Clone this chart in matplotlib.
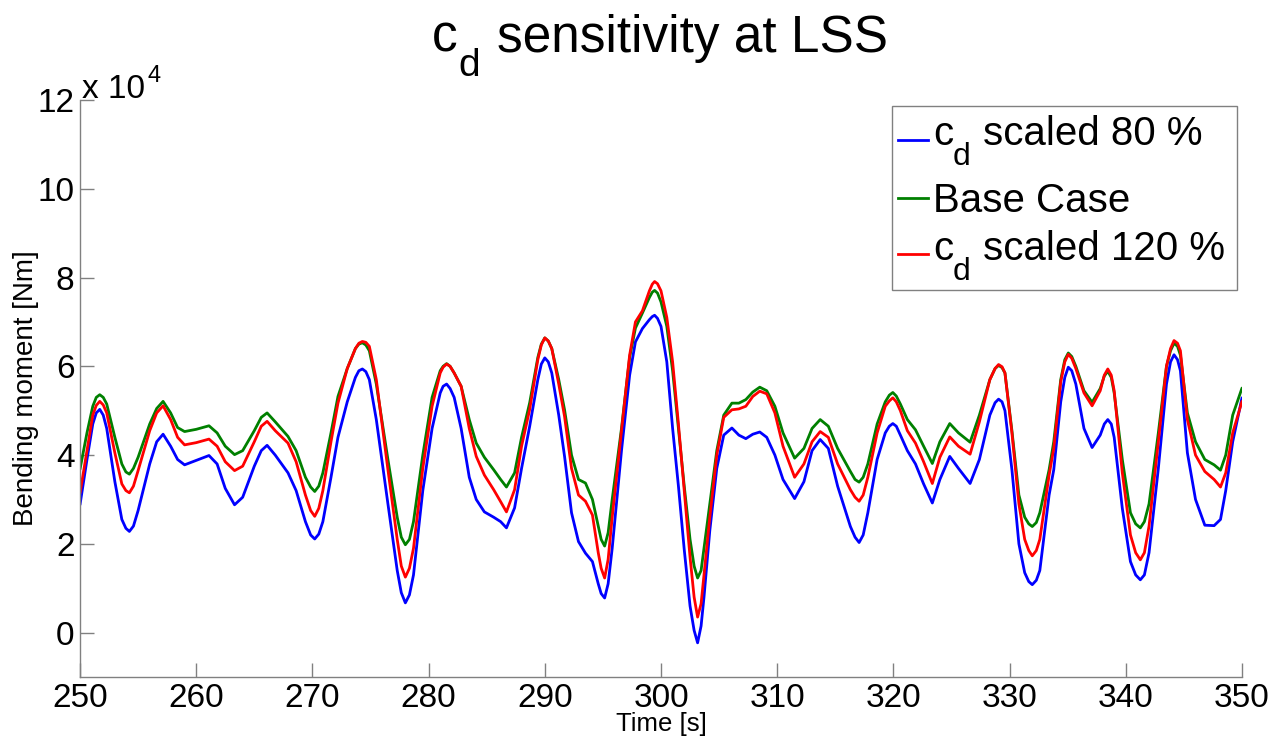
import matplotlib
matplotlib.use("Agg")
import matplotlib.pyplot as plt
from matplotlib.patches import Rectangle
from matplotlib.lines import Line2D
import numpy as np

plt.rcParams['font.family'] = ['Liberation Sans', 'DejaVu Sans']

# time [s]
time = [250.0, 250.6, 251.1, 251.4, 251.7, 252.0, 252.3, 253.0, 253.6, 253.95,
        254.25, 254.6, 255.0, 256.0, 256.6, 257.15, 257.8, 258.4, 259.0, 260.0,
        261.1, 261.8, 262.5, 263.3, 264.0, 265.0, 265.6, 266.1, 266.8, 267.9,
        268.6, 269.4, 269.85, 270.2, 270.55, 270.9, 271.6, 272.2, 273.0, 273.7,
        274.0, 274.3, 274.6, 274.9, 275.5, 276.5, 277.3, 277.65, 278.0, 278.35,
        278.7, 279.5, 280.3, 281.0, 281.25, 281.55, 281.85, 282.2, 282.8, 283.5,
        284.1, 284.8, 285.6, 286.2, 286.7, 287.4, 288.0, 288.7, 289.4, 289.7,
        290.0, 290.3, 290.6, 291.2, 291.7, 292.3, 292.9, 293.5, 294.1, 294.6,
        294.85, 295.15, 295.45, 295.8, 296.6, 297.3, 297.8, 298.4, 299.0, 299.25,
        299.45, 299.7, 300.0, 300.5, 301.0, 301.5, 302.0, 302.5, 302.85, 303.15,
        303.45, 303.7, 304.2, 304.8, 305.4, 306.1, 306.7, 307.3, 307.9, 308.5,
        309.1, 309.8, 310.5, 311.5, 312.3, 313.0, 313.7, 314.4, 315.2, 316.3,
        316.7, 317.05, 317.4, 317.8, 318.6, 319.3, 319.65, 319.95, 320.25, 320.6,
        321.2, 321.9, 322.6, 323.35, 324.0, 324.85, 325.6, 326.6, 327.4, 328.3,
        328.75, 329.05, 329.35, 329.6, 330.2, 330.8, 331.3, 331.65, 331.95, 332.3,
        332.6, 333.4, 333.8, 334.4, 334.75, 335.05, 335.35, 335.7, 336.4, 337.1,
        337.8, 338.15, 338.45, 338.75, 339.0, 339.7, 340.4, 340.85, 341.25, 341.6,
        342.0, 342.8, 343.5, 343.85, 344.15, 344.45, 344.7, 345.3, 346.0, 346.8,
        347.6, 348.15, 348.6, 349.2, 350.0]

# bending moment, units of 1e4 Nm
cd80 = [2.88, 3.9, 4.7, 4.95, 5.03, 4.9, 4.6, 3.4, 2.55, 2.35,
        2.28, 2.4, 2.75, 3.8, 4.3, 4.47, 4.2, 3.9, 3.78, 3.88,
        3.99, 3.8, 3.25, 2.88, 3.05, 3.75, 4.1, 4.22, 4.0, 3.6,
        3.2, 2.5, 2.2, 2.11, 2.22, 2.5, 3.5, 4.4, 5.2, 5.75,
        5.9, 5.94, 5.88, 5.7, 4.8, 2.9, 1.4, 0.9, 0.67, 0.85,
        1.3, 3.2, 4.6, 5.4, 5.55, 5.6, 5.5, 5.3, 4.6, 3.5,
        3.0, 2.72, 2.6, 2.5, 2.36, 2.81, 3.7, 4.65, 5.7, 6.05,
        6.19, 6.1, 5.85, 4.9, 3.97, 2.7, 2.05, 1.79, 1.6, 1.1,
        0.88, 0.78, 1.1, 1.9, 4.1, 5.8, 6.55, 6.85, 7.05, 7.12,
        7.15, 7.08, 6.9, 6.1, 4.6, 3.3, 1.87, 0.6, 0.05, -0.23,
        0.15, 0.8, 2.3, 3.7, 4.45, 4.61, 4.45, 4.37, 4.47, 4.52,
        4.4, 4.0, 3.45, 3.02, 3.4, 4.1, 4.35, 4.15, 3.3, 2.39,
        2.15, 2.03, 2.2, 2.7, 3.9, 4.5, 4.65, 4.71, 4.65, 4.45,
        4.1, 3.8, 3.35, 2.92, 3.45, 3.97, 3.7, 3.36, 3.9, 4.9,
        5.18, 5.26, 5.2, 5.0, 3.67, 2.0, 1.35, 1.15, 1.08, 1.18,
        1.4, 3.1, 3.67, 5.2, 5.75, 5.98, 5.9, 5.6, 4.6, 4.17,
        4.45, 4.7, 4.8, 4.7, 4.4, 2.8, 1.6, 1.3, 1.19, 1.3,
        1.8, 3.7, 5.6, 6.1, 6.26, 6.15, 5.9, 4.05, 3.0, 2.42,
        2.41, 2.55, 3.2, 4.3, 5.29]

base = [3.68, 4.5, 5.1, 5.3, 5.36, 5.3, 5.15, 4.4, 3.8, 3.62,
        3.57, 3.7, 3.95, 4.7, 5.05, 5.21, 4.95, 4.62, 4.53, 4.58,
        4.66, 4.5, 4.2, 4.01, 4.1, 4.55, 4.85, 4.95, 4.75, 4.42,
        4.1, 3.5, 3.28, 3.18, 3.3, 3.6, 4.5, 5.32, 5.95, 6.4,
        6.5, 6.53, 6.48, 6.35, 5.6, 3.9, 2.6, 2.15, 1.98, 2.1,
        2.5, 4.0, 5.3, 5.9, 6.0, 6.06, 6.0, 5.85, 5.55, 4.8,
        4.27, 3.95, 3.67, 3.45, 3.28, 3.6, 4.4, 5.18, 6.2, 6.5,
        6.64, 6.57, 6.4, 5.7, 5.02, 4.0, 3.45, 3.37, 3.0, 2.4,
        2.1, 1.95, 2.25, 3.0, 4.6, 6.2, 6.86, 7.2, 7.55, 7.67,
        7.71, 7.65, 7.45, 6.9, 5.9, 4.6, 3.3, 2.1, 1.5, 1.23,
        1.4, 1.9, 2.9, 4.1, 4.9, 5.17, 5.17, 5.25, 5.42, 5.53,
        5.45, 5.1, 4.5, 3.93, 4.15, 4.6, 4.8, 4.65, 4.15, 3.63,
        3.45, 3.39, 3.5, 3.8, 4.7, 5.2, 5.35, 5.41, 5.33, 5.15,
        4.8, 4.57, 4.2, 3.81, 4.3, 4.71, 4.5, 4.29, 4.9, 5.7,
        5.95, 6.02, 5.97, 5.85, 4.55, 3.1, 2.6, 2.45, 2.39, 2.48,
        2.7, 3.67, 4.3, 5.7, 6.15, 6.3, 6.22, 6.0, 5.45, 5.19,
        5.5, 5.78, 5.89, 5.75, 5.4, 3.9, 2.7, 2.45, 2.36, 2.5,
        2.9, 4.5, 6.0, 6.35, 6.52, 6.45, 6.25, 4.95, 4.3, 3.9,
        3.78, 3.66, 4.0, 4.9, 5.51]

cd120 = [3.14, 4.1, 4.9, 5.12, 5.21, 5.13, 4.95, 4.05, 3.35, 3.2,
         3.15, 3.3, 3.65, 4.55, 4.95, 5.11, 4.8, 4.4, 4.23, 4.28,
         4.36, 4.2, 3.85, 3.65, 3.75, 4.3, 4.65, 4.76, 4.55, 4.27,
         3.85, 3.1, 2.75, 2.62, 2.8, 3.2, 4.3, 5.17, 5.95, 6.4,
         6.52, 6.56, 6.54, 6.45, 5.7, 3.67, 2.1, 1.5, 1.25, 1.45,
         1.9, 3.7, 5.1, 5.85, 5.98, 6.05, 6.0, 5.85, 5.55, 4.6,
         3.97, 3.55, 3.22, 2.95, 2.72, 3.22, 4.2, 5.03, 6.15, 6.48,
         6.64, 6.57, 6.4, 5.6, 4.87, 3.7, 3.1, 2.96, 2.65, 1.8,
         1.45, 1.23, 1.65, 2.6, 4.55, 6.25, 7.0, 7.25, 7.7, 7.85,
         7.91, 7.86, 7.7, 7.1, 6.1, 4.7, 3.2, 1.7, 0.8, 0.35,
         0.65, 1.3, 2.6, 4.0, 4.85, 5.02, 5.04, 5.1, 5.32, 5.44,
         5.38, 4.95, 4.2, 3.5, 3.8, 4.3, 4.53, 4.4, 3.8, 3.22,
         3.05, 2.96, 3.1, 3.5, 4.5, 5.1, 5.22, 5.29, 5.2, 5.0,
         4.55, 4.27, 3.85, 3.36, 3.95, 4.41, 4.2, 4.02, 4.75, 5.7,
         5.95, 6.04, 5.99, 5.85, 4.5, 2.9, 2.1, 1.85, 1.73, 1.85,
         2.1, 3.55, 4.15, 5.65, 6.1, 6.27, 6.18, 5.95, 5.4, 5.11,
         5.45, 5.8, 5.94, 5.8, 5.45, 3.6, 2.2, 1.8, 1.64, 1.8,
         2.4, 4.3, 6.0, 6.4, 6.58, 6.52, 6.35, 4.8, 4.0, 3.63,
         3.45, 3.28, 3.6, 4.5, 5.21]

# legend labels: (main, subscript, rest)
legend_parts = [("c", "d", "scaled 80 %"), ("Base Case", "", ""), ("c", "d", "scaled 120 %")]
colors = ["#0000ff", "#008000", "#ff0000"]
xticks = [250, 260, 270, 280, 290, 300, 310, 320, 330, 340, 350]
yticks = [0, 2, 4, 6, 8, 10, 12]

W, H = 1279, 741
scale = 1e4
fig = plt.figure(figsize=(W / 100, H / 100), dpi=100)
ax = fig.add_axes([80 / W, 1 - 677 / H, 1162 / W, 577 / H])

t = np.array(time)
for series, col in zip([cd80, base, cd120], colors):
    ax.plot(t, np.array(series) * scale, color=col, lw=2.0,
            solid_joinstyle='round', solid_capstyle='round')

ax.set_xlim(250, 350)
ax.set_ylim(-1 * scale, 12 * scale)
ax.set_xticks(xticks)
ax.set_xticklabels([str(v) for v in xticks])
ax.set_yticks([v * scale for v in yticks])
ax.set_yticklabels([str(v) for v in yticks])

spine_col = "#808080"
for s in ["top", "right"]:
    ax.spines[s].set_visible(False)
for s in ["left", "bottom"]:
    ax.spines[s].set_color(spine_col)
    ax.spines[s].set_linewidth(1.0)
ax.tick_params(axis='both', direction='in', length=10, width=1.0,
               color=spine_col, labelsize=24, labelcolor='black', pad=4)

ax.set_xlabel("Time [s]", fontsize=18.5, labelpad=-1)
ax.set_ylabel("Bending moment [Nm]", fontsize=20)
ax.yaxis.set_label_coords((39 - 80) / 1162, 0.5)


def ftext(x, y, s, size, **kw):
    """Place text at pixel position (x right, y down from top), baseline anchored."""
    return fig.text(x / W, 1 - y / H, s, fontsize=size, ha='left', va='baseline', **kw)


# exponent label
ftext(82, 98, "x 10", 24)
ftext(147, 82, "4", 17)

# title with lowered subscript
ftext(432, 52, "c", 37)
ftext(458, 76, "d", 28)
ftext(497, 52, "sensitivity at LSS", 37)

# legend (drawn in figure pixel layout)
fig.add_artist(Rectangle((892 / W, 1 - 290 / H), (1237 - 892) / W, (290 - 106) / H,
                         transform=fig.transFigure, facecolor='white',
                         edgecolor=spine_col, lw=1.0, zorder=5))
row_base = [145, 212, 260]
row_line = [140, 198, 254]
for (main, sub, rest), col, yb, yl in zip(legend_parts, colors, row_base, row_line):
    fig.add_artist(Line2D([898 / W, 928 / W], [1 - yl / H, 1 - yl / H],
                          transform=fig.transFigure, color=col, lw=2.0, zorder=6))
    ftext(933, yb, main, 29, zorder=6)
    if sub:
        ftext(953, yb + 20, sub, 23, zorder=6)
        ftext(983, yb, rest, 29, zorder=6)

fig.savefig("out.png", dpi=100)
